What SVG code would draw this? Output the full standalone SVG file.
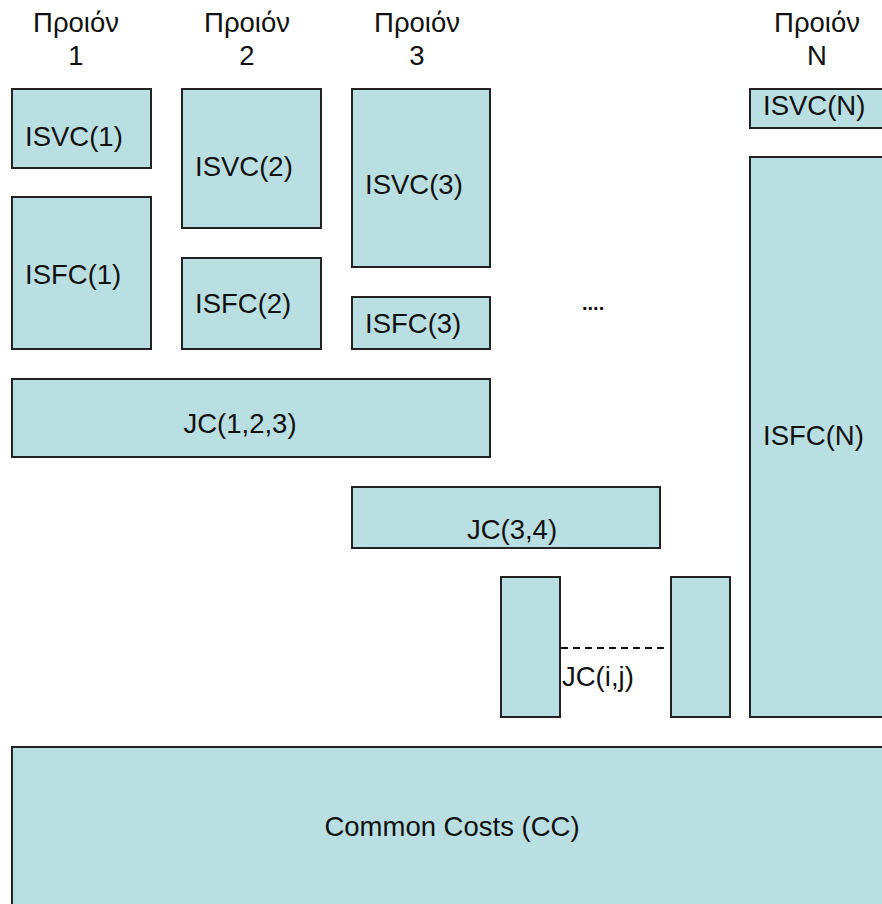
<svg xmlns="http://www.w3.org/2000/svg" width="882" height="904" viewBox="0 0 882 904">
<style>
.b{fill:#badfe2;stroke:#222;stroke-width:2}
.t{font-family:"Liberation Sans",Arial,sans-serif;font-size:27.5px;fill:#111}
.m{text-anchor:middle}
</style>
<rect width="882" height="904" fill="#fff"/>
<g id="headers">
<text class="t m" x="76" y="32">Προιόν</text><text class="t m" x="76" y="65">1</text>
<text class="t m" x="247" y="32">Προιόν</text><text class="t m" x="247" y="65">2</text>
<text class="t m" x="417" y="32">Προιόν</text><text class="t m" x="417" y="65">3</text>
<text class="t m" x="817" y="32">Προιόν</text><text class="t m" x="817" y="65">N</text>
</g>
<g id="isvc1"><rect class="b" x="12" y="89" width="139" height="79"/><text class="t" x="25" y="146">ISVC(1)</text></g>
<g id="isvc2"><rect class="b" x="182" y="89" width="139" height="139"/><text class="t" x="195" y="176">ISVC(2)</text></g>
<g id="isvc3"><rect class="b" x="352" y="89" width="138" height="178"/><text class="t" x="365" y="194">ISVC(3)</text></g>
<g id="isvcN"><rect class="b" x="750" y="89" width="150" height="39"/><text class="t" x="763" y="115">ISVC(N)</text></g>
<g id="isfc1"><rect class="b" x="12" y="197" width="139" height="152"/><text class="t" x="25" y="284">ISFC(1)</text></g>
<g id="isfc2"><rect class="b" x="182" y="258" width="139" height="91"/><text class="t" x="195" y="313">ISFC(2)</text></g>
<g id="isfc3"><rect class="b" x="352" y="297" width="138" height="52"/><text class="t" x="365" y="333">ISFC(3)</text></g>
<g id="isfcN"><rect class="b" x="750" y="157" width="150" height="560"/><text class="t" x="763" y="445">ISFC(N)</text></g>
<g id="dots"><text class="t" x="582" y="310" style="font-size:20px;font-weight:bold">....</text></g>
<g id="jc123"><rect class="b" x="12" y="379" width="478" height="78"/><text class="t m" x="240" y="433">JC(1,2,3)</text></g>
<g id="jc34"><rect class="b" x="352" y="487" width="308" height="61"/><text class="t m" x="512" y="539">JC(3,4)</text></g>
<g id="jci"><rect class="b" x="501" y="577" width="59" height="140"/></g>
<g id="jcj"><rect class="b" x="671" y="577" width="59" height="140"/></g>
<g id="connectors"><line x1="561" y1="648" x2="667" y2="648" stroke="#111" stroke-width="2" stroke-dasharray="7,5"/></g>
<g id="jcij-label"><text class="t" x="562" y="686">JC(i,j)</text></g>
<g id="cc"><rect class="b" x="12" y="747" width="900" height="180"/><text class="t m" x="452" y="836">Common Costs (CC)</text></g>
</svg>
